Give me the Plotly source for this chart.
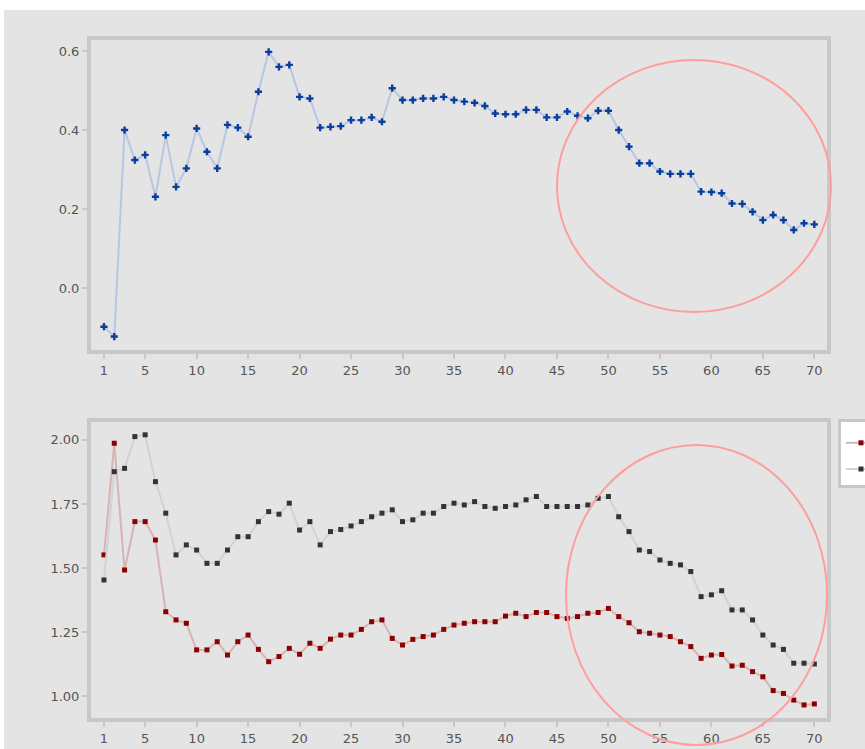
import plotly.graph_objects as go

W, H = 865, 749

x_vals = list(range(1, 71))
top_series = [-0.098, -0.123, 0.400, 0.324, 0.337, 0.231, 0.387, 0.256, 0.303, 0.404,
              0.345, 0.303, 0.413, 0.406, 0.383, 0.497, 0.598, 0.560, 0.565, 0.484,
              0.480, 0.406, 0.408, 0.410, 0.425, 0.425, 0.432, 0.421, 0.506, 0.476,
              0.476, 0.480, 0.480, 0.484, 0.476, 0.472, 0.469, 0.461, 0.442, 0.440,
              0.440, 0.451, 0.451, 0.432, 0.432, 0.447, 0.436, 0.430, 0.449, 0.449,
              0.400, 0.358, 0.316, 0.316, 0.295, 0.289, 0.289, 0.289, 0.244, 0.243,
              0.240, 0.214, 0.213, 0.193, 0.172, 0.185, 0.172, 0.147, 0.164, 0.161]
red_series = [1.551, 1.987, 1.492, 1.681, 1.681, 1.609, 1.329, 1.297, 1.284, 1.180,
              1.180, 1.212, 1.160, 1.212, 1.238, 1.182, 1.134, 1.154, 1.186, 1.163,
              1.206, 1.186, 1.222, 1.238, 1.238, 1.260, 1.290, 1.297, 1.225, 1.199,
              1.221, 1.232, 1.238, 1.260, 1.277, 1.284, 1.290, 1.290, 1.290, 1.312,
              1.323, 1.310, 1.326, 1.326, 1.310, 1.303, 1.310, 1.323, 1.326, 1.342,
              1.310, 1.286, 1.251, 1.245, 1.238, 1.232, 1.212, 1.193, 1.147, 1.160,
              1.162, 1.117, 1.120, 1.095, 1.075, 1.021, 1.010, 0.984, 0.965, 0.969]
gray_series = [1.453, 1.876, 1.889, 2.013, 2.020, 1.837, 1.714, 1.551, 1.590, 1.570,
               1.518, 1.518, 1.570, 1.622, 1.622, 1.681, 1.720, 1.710, 1.753, 1.648,
               1.681, 1.590, 1.642, 1.650, 1.664, 1.681, 1.700, 1.714, 1.727, 1.681,
               1.688, 1.714, 1.714, 1.740, 1.753, 1.746, 1.759, 1.740, 1.733, 1.740,
               1.746, 1.766, 1.779, 1.740, 1.740, 1.740, 1.740, 1.746, 1.772, 1.779,
               1.700, 1.642, 1.570, 1.564, 1.531, 1.518, 1.512, 1.486, 1.388, 1.395,
               1.411, 1.336, 1.336, 1.297, 1.238, 1.199, 1.182, 1.128, 1.128, 1.125]

x_tickvals = [1, 5, 10, 15, 20, 25, 30, 35, 40, 45, 50, 55, 60, 65, 70]
top_tickvals = [0.0, 0.2, 0.4, 0.6]
bottom_tickvals = [1.00, 1.25, 1.50, 1.75, 2.00]
series_names = ["Series 1", "Series 2"]


def px(x):
    return x / W


def py(y):
    return 1 - y / H


fig = go.Figure()
fig.add_trace(go.Scatter(
    x=x_vals, y=top_series, mode="lines+markers", showlegend=False,
    line=dict(color="#b7c6e2", width=2),
    marker=dict(symbol="cross", size=6, color="#0a3e9e"),
    xaxis="x", yaxis="y"))
fig.add_trace(go.Scatter(
    x=x_vals, y=red_series, mode="lines+markers", name=series_names[0],
    legendgroup="a",
    line=dict(color="#d9b3b3", width=2),
    marker=dict(symbol="square", size=5, color="#8b0000"),
    xaxis="x2", yaxis="y2"))
fig.add_trace(go.Scatter(
    x=x_vals, y=gray_series, mode="lines+markers", name=series_names[1],
    legendgroup="b",
    line=dict(color="#d2d2d2", width=2),
    marker=dict(symbol="square", size=5, color="#333333"),
    xaxis="x2", yaxis="y2"))

tick_font = dict(family="DejaVu Sans", size=13, color="#555555")
common_x = dict(range=[-0.26, 71.23], tickvals=x_tickvals, showgrid=False,
                zeroline=False, showline=True, linecolor="#c8c8c8", linewidth=4,
                mirror=True, ticks="outside", ticklen=5, tickwidth=2,
                tickcolor="#c8c8c8", tickfont=tick_font,
                domain=[px(91), px(827)])
common_y = dict(showgrid=False, zeroline=False, showline=True, linecolor="#c8c8c8",
                linewidth=4, mirror=True, ticks="outside", ticklen=5, tickwidth=2,
                tickcolor="#c8c8c8", tickfont=tick_font)

fig.update_layout(
    width=W, height=H,
    margin=dict(l=0, r=0, t=0, b=0, autoexpand=False),
    paper_bgcolor="white", plot_bgcolor="white",
    xaxis=dict(**common_x, anchor="y"),
    yaxis=dict(**common_y, range=[-0.157, 0.628], tickvals=top_tickvals,
               tickformat=".1f", domain=[py(350), py(40)], anchor="x"),
    xaxis2=dict(**common_x, anchor="y2"),
    yaxis2=dict(**common_y, range=[0.914, 2.070], tickvals=bottom_tickvals,
                tickformat=".2f", domain=[py(718), py(422)], anchor="x2"),
    legend=dict(x=px(838), y=py(419), xanchor="left", yanchor="top",
                bgcolor="white", bordercolor="#c8c8c8", borderwidth=3,
                font=dict(family="DejaVu Sans", size=14, color="#333333"),
                title=dict(text=" ", font=dict(size=4)),
                tracegroupgap=5),
    shapes=[
        dict(type="rect", xref="paper", yref="paper", x0=px(4), x1=1, y0=0,
             y1=py(10), fillcolor="#e4e4e4", line=dict(width=0), layer="below"),
        dict(type="circle", xref="paper", yref="paper", x0=px(557), x1=px(831),
             y0=py(312), y1=py(60), line=dict(color="#ff9d9d", width=2)),
        dict(type="circle", xref="paper", yref="paper", x0=px(566), x1=px(827),
             y0=py(745), y1=py(445), line=dict(color="#ff9d9d", width=2)),
    ],
)

fig.write_html("out.html",
               config={"displayModeBar": False},
               post_script="document.body.style.margin='0';"
                           "document.body.style.overflow='hidden';")
